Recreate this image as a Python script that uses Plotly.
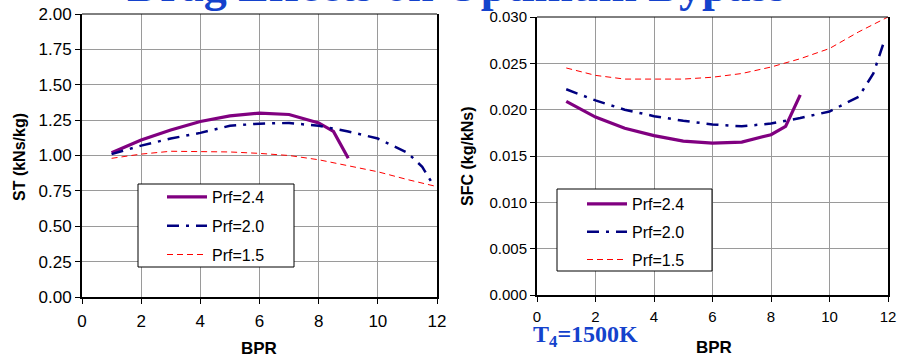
import plotly.graph_objects as go

# ---------------- data ----------------
bpr_24 = [1, 2, 3, 4, 5, 6, 7, 8, 8.5, 9]
st_24 = [1.02, 1.11, 1.18, 1.24, 1.28, 1.30, 1.29, 1.23, 1.17, 0.98]
sfc_24 = [0.0209, 0.0192, 0.0180, 0.0172, 0.0166, 0.0164, 0.0165, 0.0173, 0.0182, 0.0216]

bpr_20 = [1, 2, 3, 4, 5, 6, 7, 8, 9, 10, 11, 11.5, 11.85]
st_20 = [1.01, 1.07, 1.12, 1.16, 1.21, 1.225, 1.23, 1.21, 1.17, 1.12, 1.02, 0.92, 0.80]
sfc_20 = [0.0222, 0.0210, 0.0200, 0.0193, 0.0188, 0.0184, 0.0182, 0.0185, 0.0191, 0.0198, 0.0214, 0.0239, 0.0272]

bpr_15 = [1, 2, 3, 4, 5, 6, 7, 8, 9, 10, 11, 12]
st_15 = [0.98, 1.01, 1.03, 1.03, 1.025, 1.015, 1.00, 0.97, 0.93, 0.885, 0.83, 0.78]
sfc_15 = [0.0245, 0.0237, 0.0233, 0.0233, 0.0233, 0.0235, 0.0239, 0.0246, 0.0255, 0.0266, 0.0284, 0.0300]

x_ticks = [0, 2, 4, 6, 8, 10, 12]
st_ticks = [0.0, 0.25, 0.5, 0.75, 1.0, 1.25, 1.5, 1.75, 2.0]
sfc_ticks = [0.0, 0.005, 0.010, 0.015, 0.020, 0.025, 0.030]

labels = ["Prf=2.4", "Prf=2.0", "Prf=1.5"]
colors = ["#800080", "#000080", "#FF0000"]
widths = [3.2, 2.5, 1]
dashes = ["solid", "12px,7px,3px,7px", "6px,4px"]

W, H = 897, 357
FONT = "Arial, Liberation Sans, sans-serif"
SERIF = "Times New Roman, Liberation Serif, serif"
TITLE_BLUE = "#1442CC"

fig = go.Figure()

left_series = [(bpr_24, st_24), (bpr_20, st_20), (bpr_15, st_15)]
right_series = [(bpr_24, sfc_24), (bpr_20, sfc_20), (bpr_15, sfc_15)]

for i, (xs, ys) in enumerate(left_series):
    fig.add_trace(go.Scatter(x=xs, y=ys, mode="lines", name=labels[i],
                             line=dict(color=colors[i], width=widths[i], dash=dashes[i]),
                             xaxis="x", yaxis="y", legend="legend",
                             legendgroup="L%d" % i))
for i, (xs, ys) in enumerate(right_series):
    fig.add_trace(go.Scatter(x=xs, y=ys, mode="lines", name=labels[i],
                             line=dict(color=colors[i], width=widths[i], dash=dashes[i]),
                             xaxis="x2", yaxis="y2", legend="legend2",
                             legendgroup="R%d" % i))

def px_x(p):
    return p / W

def px_y(p):
    return 1 - p / H

axis_common = dict(showgrid=True, gridcolor="#9a9a9a", gridwidth=1,
                   ticks="outside", ticklen=5, tickcolor="black", tickwidth=1,
                   showline=True, linecolor="black", zeroline=False,
                   color="black", automargin=False)

fig.update_layout(
    width=W, height=H,
    margin=dict(l=0, r=0, t=0, b=0, pad=0, autoexpand=False),
    paper_bgcolor="white", plot_bgcolor="white",
    font=dict(family=FONT, color="black"),
    xaxis=dict(domain=[px_x(82), px_x(437)], range=[0, 12], tickvals=x_ticks,
               anchor="y", linewidth=2, tickfont=dict(size=17),
               ticklabelstandoff=3, **axis_common),
    yaxis=dict(domain=[px_y(297), px_y(14)], range=[0, 2], tickvals=st_ticks,
               tickformat=".2f", anchor="x", linewidth=2, mirror=True,
               tickfont=dict(size=17), **axis_common),
    xaxis2=dict(domain=[px_x(537), px_x(888)], range=[0, 12], tickvals=x_ticks,
                anchor="y2", linewidth=2, tickfont=dict(size=15),
                ticklabelstandoff=2, **axis_common),
    yaxis2=dict(domain=[px_y(295), px_y(17)], range=[0, 0.03], tickvals=sfc_ticks,
                tickformat=".3f", anchor="x2", linewidth=2, mirror=True,
                tickfont=dict(size=15), **axis_common),
    legend=dict(x=px_x(162), y=px_y(180), xanchor="left", yanchor="top",
                bgcolor="rgba(0,0,0,0)", borderwidth=0, traceorder="grouped",
                tracegroupgap=5,
                font=dict(size=16, family=FONT), itemwidth=40),
    legend2=dict(x=px_x(582), y=px_y(187), xanchor="left", yanchor="top",
                 bgcolor="rgba(0,0,0,0)", borderwidth=0, traceorder="grouped",
                 tracegroupgap=4,
                 font=dict(size=16, family=FONT), itemwidth=40),
    showlegend=True,
)

fig.add_shape(type="rect", xref="paper", yref="paper",
              x0=px_x(138), x1=px_x(294), y0=px_y(267), y1=px_y(184),
              line=dict(color="black", width=1), fillcolor="white", layer="above")
fig.add_shape(type="rect", xref="paper", yref="paper",
              x0=px_x(557), x1=px_x(712), y0=px_y(271), y1=px_y(189),
              line=dict(color="black", width=1), fillcolor="white", layer="above")
fig.add_shape(type="line", xref="x domain", yref="y domain", x0=0, x1=1, y0=1, y1=1,
              line=dict(color="black", width=1))
fig.add_shape(type="line", xref="x2 domain", yref="y2 domain", x0=0, x1=1, y0=1, y1=1,
              line=dict(color="black", width=1))

fig.add_annotation(text="<b>Drag Effects on Optimum Bypass</b>", xref="paper", yref="paper",
                   x=px_x(456), y=px_y(-14), xanchor="center", yanchor="middle",
                   showarrow=False, font=dict(family=SERIF, size=46, color=TITLE_BLUE))
fig.add_annotation(text="<b>T<sub>4</sub>=1500K</b>", xref="paper", yref="paper",
                   x=px_x(531), y=px_y(336), xanchor="left", yanchor="middle",
                   showarrow=False, font=dict(family=SERIF, size=24, color=TITLE_BLUE))

fig.add_annotation(text="<b>ST (kNs/kg)</b>", xref="paper", yref="paper",
                   x=px_x(19), y=px_y(157), textangle=-90, showarrow=False,
                   xanchor="center", yanchor="middle",
                   font=dict(size=16, family=FONT))
fig.add_annotation(text="<b>SFC (kg/kNs)</b>", xref="paper", yref="paper",
                   x=px_x(467), y=px_y(156), textangle=-90, showarrow=False,
                   xanchor="center", yanchor="middle",
                   font=dict(size=16, family=FONT))
fig.add_annotation(text="<b>BPR</b>", xref="paper", yref="paper",
                   x=px_x(259), y=px_y(348), showarrow=False,
                   xanchor="center", yanchor="middle",
                   font=dict(size=17, family=FONT))
fig.add_annotation(text="<b>BPR</b>", xref="paper", yref="paper",
                   x=px_x(714), y=px_y(347), showarrow=False,
                   xanchor="center", yanchor="middle",
                   font=dict(size=17, family=FONT))

fig.write_html("out.html", config={"displayModeBar": False},
               post_script="document.body.style.margin='0';")
